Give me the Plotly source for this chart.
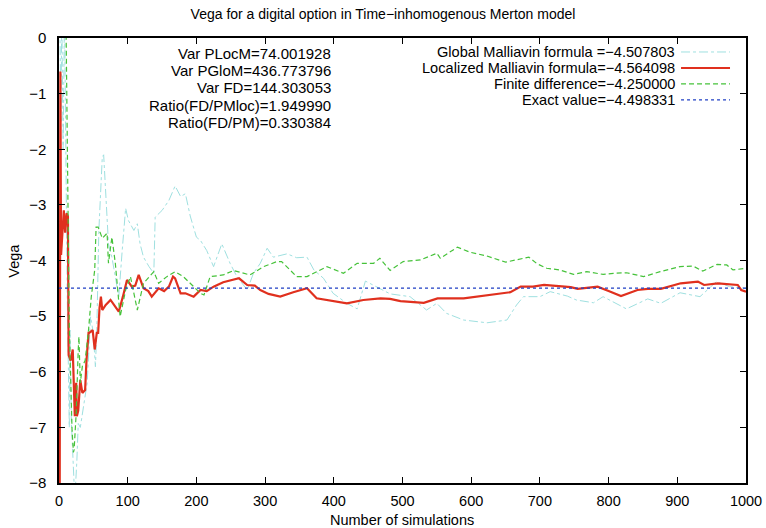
import plotly.graph_objects as go

# ---------------- data ----------------
exact_value = -4.498331

glob_n = [1, 3, 4, 6, 8, 10, 12, 15, 16, 18, 21, 23, 26, 28, 31, 34, 41, 46, 50, 53, 55, 58, 63, 65, 68,
          72, 77, 82, 87, 92, 97, 101, 109, 114, 118, 123, 131, 138, 140, 150, 160, 169, 177, 184, 191,
          200, 206, 215, 225, 237, 249, 259, 274, 283, 293, 303, 312, 332, 346, 361, 371, 385, 399, 419,
          434, 446, 463, 482, 511, 535, 550, 564, 589, 623, 652, 666, 676, 700, 715, 740, 753, 778, 792,
          826, 857, 876, 904, 933, 957, 976, 1000]
glob_v = [0.5, -1.5, 0.5, -2.0, 0.5, -3.0, -4.6, -7.0, -5.25, -6.9, -7.95, -8.3, -7.6, -6.93, -7.0, -6.74,
          -6.2, -5.01, -5.31, -5.91, -5.25, -3.46, -2.14, -2.1, -2.86, -3.7, -3.94, -4.29, -4.65, -3.82,
          -3.06, -3.28, -3.46, -3.34, -3.7, -3.94, -4.11, -4.23, -3.22, -3.1, -2.92, -2.66, -2.85, -2.8,
          -3.2, -3.58, -3.64, -3.82, -4.11, -3.7, -4.05, -4.29, -4.53, -4.23, -4.05, -3.78, -3.94, -3.88,
          -3.95, -3.94, -4.17, -4.32, -4.59, -4.77, -4.87, -4.37, -4.48, -4.6, -4.65, -4.89, -4.77, -4.95,
          -5.07, -5.12, -5.07, -4.8, -4.65, -4.65, -4.56, -4.64, -4.71, -4.76, -4.65, -4.87, -4.69, -4.77,
          -4.58, -4.65, -4.38, -4.47, -4.5]

loc_n = [1, 2, 3, 5, 7, 9, 11, 13, 14, 17, 19, 20, 23, 25, 26, 28, 31, 34, 38, 40, 43, 44, 49, 52, 55, 57,
         59, 61, 63, 68, 75, 82, 87, 93, 99, 106, 111, 116, 123, 130, 135, 145, 153, 160, 166, 169, 177,
         184, 196, 206, 215, 225, 239, 262, 274, 285, 293, 305, 322, 341, 361, 375, 395, 419, 443, 468,
         482, 497, 531, 551, 589, 624, 657, 672, 690, 706, 730, 745, 755, 784, 800, 818, 842, 857, 876,
         905, 930, 939, 959, 988, 993, 1000]
loc_v = [-8.5, -0.6, -3.9, -3.5, -3.1, -3.5, -3.15, -3.2, -5.7, -5.8, -5.7, -5.6, -6.8, -6.2, -6.8, -6.7,
         -6.15, -6.38, -6.33, -5.8, -5.3, -5.3, -5.25, -5.6, -5.3, -5.3, -4.85, -4.65, -4.89, -4.8, -4.71,
         -4.83, -4.92, -4.65, -4.35, -4.47, -4.45, -4.26, -4.5, -4.55, -4.65, -4.5, -4.55, -4.47, -4.29,
         -4.32, -4.59, -4.59, -4.65, -4.53, -4.55, -4.47, -4.39, -4.32, -4.44, -4.45, -4.53, -4.6, -4.65,
         -4.57, -4.5, -4.68, -4.72, -4.77, -4.71, -4.68, -4.69, -4.73, -4.76, -4.68, -4.68, -4.62, -4.57,
         -4.47, -4.47, -4.44, -4.47, -4.48, -4.51, -4.47, -4.55, -4.64, -4.53, -4.51, -4.51, -4.41, -4.38,
         -4.44, -4.41, -4.44, -4.53, -4.56]

fd_n = [1, 5, 10, 13, 15, 19, 21, 22, 25, 28, 29, 31, 34, 38, 43, 47, 52, 54, 57, 63, 70, 72, 77, 82, 89,
        97, 104, 114, 123, 138, 145, 157, 169, 181, 191, 206, 211, 220, 239, 254, 278, 298, 317, 324, 346,
        361, 390, 414, 434, 458, 467, 482, 501, 526, 550, 555, 580, 598, 623, 650, 684, 696, 710, 729, 749,
        768, 792, 807, 826, 851, 875, 894, 904, 923, 937, 958, 972, 981, 1000]
fd_v = [1.0, 0.5, 0.5, -3.1, -5.2, -7.05, -7.45, -7.4, -6.75, -5.6, -5.37, -6.2, -5.9, -5.8, -5.25, -4.65,
        -4.17, -3.4, -3.4, -3.6, -3.51, -4.05, -3.58, -4.05, -5.01, -4.53, -4.29, -4.89, -4.41, -4.2,
        -4.41, -4.29, -4.2, -4.29, -4.41, -4.59, -4.62, -4.29, -4.26, -4.18, -4.26, -4.11, -4.02, -4.02,
        -4.29, -4.29, -4.11, -4.23, -4.05, -4.05, -3.96, -4.18, -4.02, -3.99, -3.87, -3.96, -3.76, -3.85,
        -3.92, -4.03, -3.94, -4.06, -4.14, -4.17, -4.25, -4.2, -4.25, -4.23, -4.22, -4.29, -4.2, -4.14,
        -4.11, -4.1, -4.19, -4.07, -4.08, -4.17, -4.14]

exact_n = [0, 1000]

legend_labels = ["Global Malliavin formula =\u22124.507803",
                 "Localized Malliavin formula=\u22124.564098",
                 "Finite difference=\u22124.250000",
                 "Exact value=\u22124.498331"]
stats_labels = ["Var PLocM=74.001928", "Var PGloM=436.773796", "Var FD=144.303053",
                "Ratio(FD/PMloc)=1.949990", "Ratio(FD/PM)=0.330384"]

x_ticks = [0, 100, 200, 300, 400, 500, 600, 700, 800, 900, 1000]
y_ticks = [0, -1, -2, -3, -4, -5, -6, -7, -8]

# ---------------- styles ----------------
C_GLOB = "#9fe0e0"
C_LOC = "#e0301e"
C_FD = "#46c23a"
C_EXACT = "#1f3fc4"
FONT = "Liberation Sans"

W, H = 766, 528
L, R, T, B = 58.6, 20, 37.5, 45

fig = go.Figure()
fig.add_trace(go.Scatter(x=glob_n, y=glob_v, mode="lines",
                         line=dict(color=C_GLOB, width=1, dash="dashdot"), showlegend=False))
fig.add_trace(go.Scatter(x=loc_n, y=loc_v, mode="lines",
                         line=dict(color=C_LOC, width=2.2), showlegend=False))
fig.add_trace(go.Scatter(x=fd_n, y=fd_v, mode="lines",
                         line=dict(color=C_FD, width=1.2, dash="5px,3px"), showlegend=False))
fig.add_trace(go.Scatter(x=exact_n, y=[exact_value] * len(exact_n), mode="lines",
                         line=dict(color=C_EXACT, width=1.3, dash="3px,3px"), showlegend=False))

pw = W - L - R
ph = H - T - B
def px_x(p):
    return (p - L) / pw
def px_y(p):
    return (H - B - p) / ph

annotations = []
# statistics block
for i, s in enumerate(stats_labels):
    annotations.append(dict(text=s, xref="paper", yref="paper", x=px_x(333), y=px_y(53.3 + 17.1 * i),
                            xanchor="right", yanchor="middle", showarrow=False,
                            font=dict(family=FONT, size=15, color="black")))
# legend block (gnuplot style: text then sample)
shapes = []
leg_styles = [dict(color=C_GLOB, width=1, dash="dashdot"),
              dict(color=C_LOC, width=2),
              dict(color=C_FD, width=1.2, dash="5px,3px"),
              dict(color=C_EXACT, width=1.3, dash="3px,3px")]
for i, s in enumerate(legend_labels):
    yy = 51.5 + 16 * i
    annotations.append(dict(text=s, xref="paper", yref="paper", x=px_x(677), y=px_y(yy),
                            xanchor="right", yanchor="middle", showarrow=False,
                            font=dict(family=FONT, size=14.6, color="black")))
    shapes.append(dict(type="line", xref="paper", yref="paper", x0=px_x(681), x1=px_x(730),
                       y0=px_y(yy), y1=px_y(yy), line=leg_styles[i]))

# axis titles as positioned text (gnuplot style)
annotations.append(dict(text="Number of simulations", xref="paper", yref="paper",
                        x=px_x(402), y=px_y(520), xanchor="center", yanchor="middle",
                        showarrow=False, font=dict(family=FONT, size=14.5, color="black")))
annotations.append(dict(text="Vega", xref="paper", yref="paper", textangle=-90,
                        x=px_x(14), y=px_y(260), xanchor="center", yanchor="middle",
                        showarrow=False, font=dict(family=FONT, size=14.5, color="black")))

fig.update_layout(
    width=W, height=H,
    margin=dict(l=L, r=R, t=T, b=B, pad=0, autoexpand=False),
    paper_bgcolor="white", plot_bgcolor="white",
    font=dict(family=FONT, size=15, color="black"),
    title=dict(text="Vega for a digital option in Time\u2212inhomogenous Merton model",
               x=0.5, xref="container", xanchor="center", y=1 - 14 / H, yref="container",
               yanchor="middle", automargin=False, font=dict(family=FONT, size=14)),
    annotations=annotations, shapes=shapes,
    showlegend=False,
)
fig.update_xaxes(range=[0, 1000], tickvals=x_ticks, ticks="inside", ticklen=6, tickwidth=1,
                 tickcolor="black", showline=True, linecolor="black", linewidth=1.5, mirror="allticks",
                 showgrid=False, zeroline=False, ticklabelstandoff=4, automargin=False,
                 tickfont=dict(family=FONT, size=14.5))
fig.update_yaxes(range=[-8, 0], tickvals=y_ticks, ticks="inside", ticklen=6, tickwidth=1,
                 tickcolor="black", showline=True, linecolor="black", linewidth=1.5, mirror="allticks",
                 showgrid=False, zeroline=False, ticklabelstandoff=8, automargin=False,
                 tickfont=dict(family=FONT, size=15))

fig.write_html("out.html")
